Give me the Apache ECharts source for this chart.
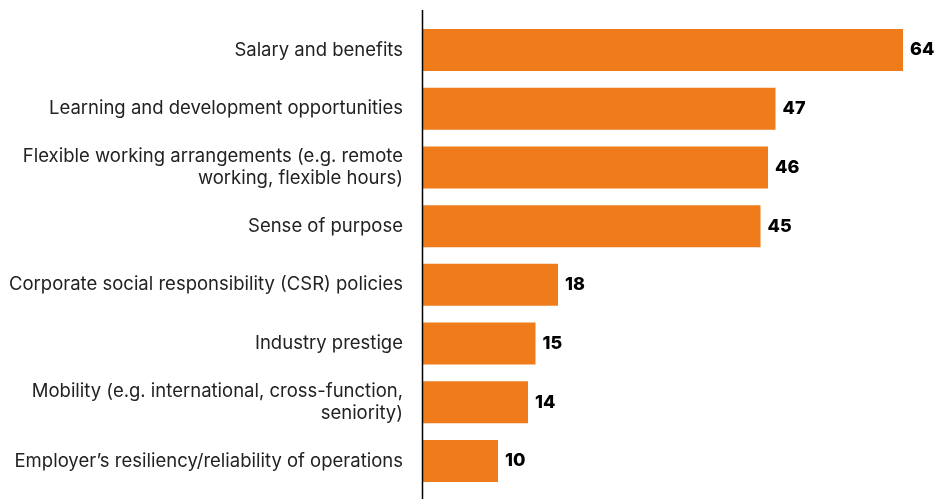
<!DOCTYPE html>
<html><head><meta charset="utf-8">
<script src="https://cdn.jsdelivr.net/npm/echarts@6/dist/echarts.min.js"></script>
<style>html,body{margin:0;padding:0;background:#fff}#c{width:938px;height:499px}</style>
</head><body><div id="c"></div>
<script>
const categories = [
  "Salary and benefits",
  "Learning and development opportunities",
  "Flexible working arrangements (e.g. remote\nworking, flexible hours)",
  "Sense of purpose",
  "Corporate social responsibility (CSR) policies",
  "Industry prestige",
  "Mobility (e.g. international, cross-function,\nseniority)",
  "Employer\u2019s resiliency/reliability of operations"
];
const values = [64, 47, 46, 45, 18, 15, 14, 10];

const chart = echarts.init(document.getElementById('c'), null, {renderer: 'canvas'});
chart.setOption({
  animation: false,
  grid: {left: 423, right: 5, top: 20.6, height: 469.8, containLabel: false},
  xAxis: {type: 'value', min: 0, max: 68, show: false},
  yAxis: {
    type: 'category', data: categories, inverse: true,
    axisLine: {show: false}, axisTick: {show: false},
    axisLabel: {margin: 20, color: '#222', fontSize: 18.5, fontFamily: 'Inter', lineHeight: 22, align: 'right', padding: [4, 0, 0, 0]}
  },
  graphic: [{type: 'line', shape: {x1: 422.5, y1: 10, x2: 422.5, y2: 499}, style: {stroke: '#000', lineWidth: 1.5}, z: 10}],
  series: [{
    type: 'bar', data: values, barWidth: '71.5%',
    itemStyle: {color: '#EF7B1A'},
    label: {show: true, position: 'right', distance: 7, color: '#000', fontWeight: 800, fontSize: 18, fontFamily: 'Inter', padding: [4, 0, 0, 0]}
  }]
});
</script></body></html>
